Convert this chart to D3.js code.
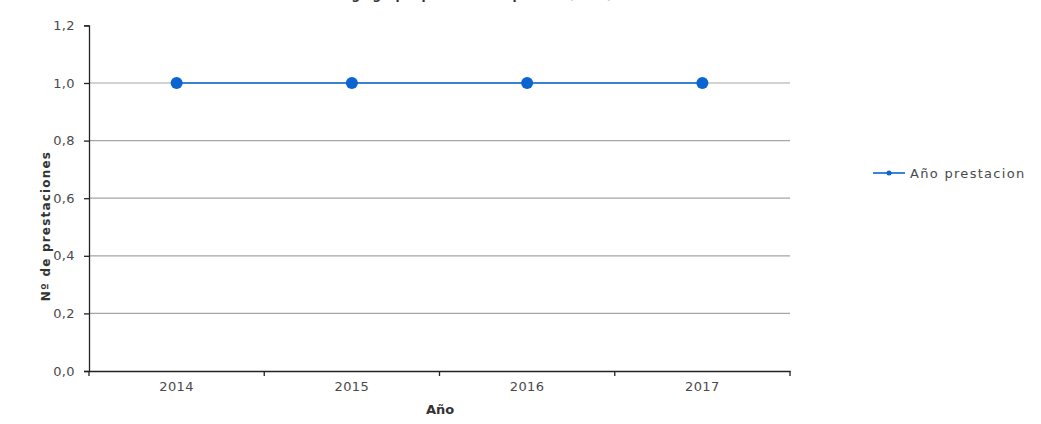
<!DOCTYPE html>
<html>
<head>
<meta charset="utf-8">
<script src="https://cdnjs.cloudflare.com/ajax/libs/d3/7.8.5/d3.min.js"></script>
<style>
  body { margin: 0; background: #fff; }
  text { font-family: "DejaVu Sans", Verdana, sans-serif; }
</style>
</head>
<body>
<svg id="chart" width="1041" height="424"></svg>
<script>
// datos
const years = ["2014", "2015", "2016", "2017"];
const prestaciones = [1, 1, 1, 1];
const yTicks = [0, 0.2, 0.4, 0.6, 0.8, 1.0, 1.2];
const serieNombre = "Año prestacion";

const svg = d3.select("#chart");
const mLeft = 89, mRight = 790, mTop = 25.4, mBottom = 371;

const x = d3.scaleBand().domain(years).range([mLeft, mRight]);
const y = d3.scaleLinear().domain([0, 1.2]).range([mBottom, mTop]);
const fmt = v => d3.format(".1f")(v).replace(".", ",");

// titulo (cortado arriba, como en la original)
svg.append("text").attr("x", 467).attr("y", -1)
    .attr("text-anchor", "middle").attr("font-size", 12).attr("font-weight", "bold")
    .attr("fill", "#333")
    .text("Código grupo: prestaciones por año (Total)");

// grid
svg.append("g").selectAll("line").data(yTicks.filter(d => d > 0 && d < 1.2)).enter()
    .append("line")
    .attr("x1", mLeft).attr("x2", mRight)
    .attr("y1", d => y(d)).attr("y2", d => y(d))
    .attr("stroke", "#a6a6a6").attr("stroke-width", 1.2);

// eje y
const yAxis = svg.append("g").attr("transform", `translate(${mLeft},0)`)
    .call(d3.axisLeft(y).tickValues(yTicks).tickFormat(fmt).tickSize(5).tickPadding(9));
// eje x
const xAxis = svg.append("g").attr("transform", `translate(0,${mBottom})`)
    .call(d3.axisBottom(x).tickSize(0).tickPadding(11));
xAxis.selectAll(".tick")
    .append("line")
    .attr("x1", x.bandwidth() / 2).attr("x2", x.bandwidth() / 2)
    .attr("y1", 0).attr("y2", 5);
xAxis.append("line").attr("class", "edge").attr("x1", mLeft).attr("x2", mLeft).attr("y1", 0).attr("y2", 5);

[yAxis, xAxis].forEach(g => {
    g.select(".domain").attr("stroke", "#222").attr("stroke-width", 1.3);
    g.selectAll(".tick line, line.edge").attr("stroke", "#222").attr("stroke-width", 1.3);
    g.selectAll("text").attr("font-size", 13).attr("fill", "#4a4a4a")
        .attr("letter-spacing", 0.4)
        .attr("font-family", "'DejaVu Sans', sans-serif");
});

// titulos de ejes
svg.append("text").attr("x", 440).attr("y", 414).attr("text-anchor", "middle")
    .attr("font-size", 13).attr("font-weight", "bold").attr("fill", "#333").text("Año");
svg.append("text").attr("transform", "translate(50,226) rotate(-90)")
    .attr("text-anchor", "middle").attr("font-size", 12).attr("font-weight", "bold")
    .attr("letter-spacing", 1.2).attr("fill", "#333").text("Nº de prestaciones");

// serie
const cx = (d, i) => x(years[i]) + x.bandwidth() / 2;
const line = d3.line().x((d, i) => cx(d, i)).y(d => y(d));
svg.append("path").datum(prestaciones).attr("d", line)
    .attr("fill", "none").attr("stroke", "#0a64d2").attr("stroke-width", 1.6);
svg.append("g").selectAll("circle").data(prestaciones).enter()
    .append("circle").attr("cx", cx).attr("cy", d => y(d)).attr("r", 6)
    .attr("fill", "#0a64d2");

// leyenda
const lg = svg.append("g").attr("transform", "translate(873,173)");
lg.append("line").attr("x1", 0).attr("x2", 32).attr("stroke", "#0a64d2").attr("stroke-width", 1.6);
lg.append("circle").attr("cx", 16).attr("r", 2.5).attr("fill", "#0a64d2");
lg.append("text").attr("x", 37).attr("y", 5).attr("font-size", 13).attr("fill", "#4a4a4a")
    .attr("letter-spacing", 1.3)
    .text(serieNombre);
</script>
</body>
</html>
